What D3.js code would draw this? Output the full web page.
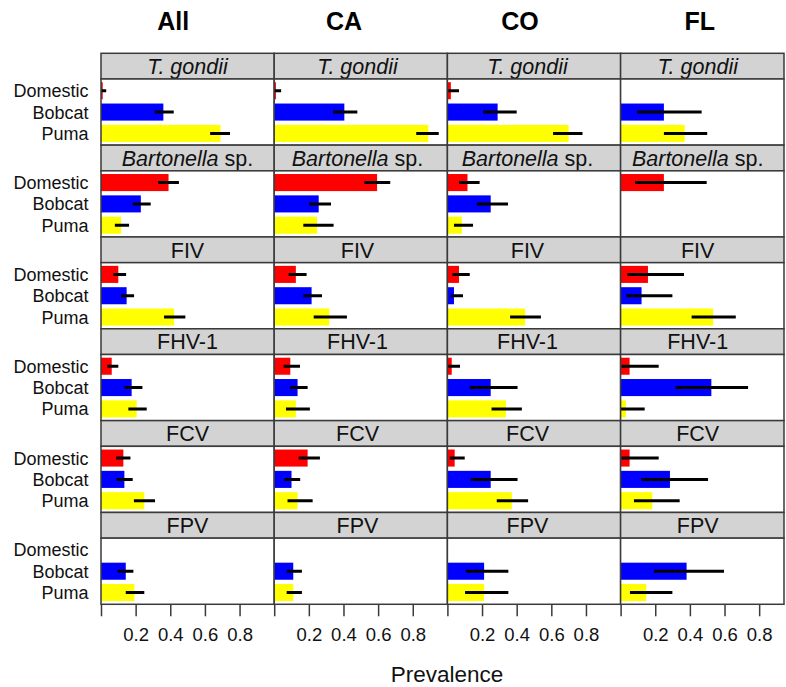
<!DOCTYPE html>
<html>
<head>
<meta charset="utf-8">
<script src="https://cdn.jsdelivr.net/npm/d3@7/dist/d3.min.js"></script>
<style>
  html, body { margin: 0; padding: 0; background: #fff; }
  svg { display: block; font-family: "Liberation Sans", Arial, sans-serif; }
</style>
</head>
<body>
<svg id="chart" width="786" height="687"></svg>
<script>
// ---------------- DATA ----------------
const regions = ["All", "CA", "CO", "FL"];
const pathogens = ["T. gondii", "Bartonella sp.", "FIV", "FHV-1", "FCV", "FPV"];
const species = ["Domestic", "Bobcat", "Puma"];
const speciesColors = ["#ff0000", "#0000ff", "#ffff00"];
const tickValues = [0, 0.2, 0.4, 0.6, 0.8];
const tickLabels = ["", "0.2", "0.4", "0.6", "0.8"];

// prevalence estimates: rows = pathogens, cols = Domestic, Bobcat, Puma (null = no data)
const estAll = [[0.01, 0.36, 0.69], [0.39, 0.23, 0.116], [0.10, 0.148, 0.422], [0.062, 0.177, 0.206], [0.129, 0.135, 0.25], [null, 0.143, 0.193]];
const lowAll = [[0.0, 0.31, 0.63], [0.33, 0.183, 0.08], [0.071, 0.116, 0.364], [0.036, 0.135, 0.158], [0.087, 0.09, 0.19], [null, 0.096, 0.143]];
const highAll = [[0.03, 0.42, 0.745], [0.45, 0.287, 0.162], [0.145, 0.191, 0.487], [0.10, 0.239, 0.264], [0.17, 0.183, 0.312], [null, 0.187, 0.25]];

const estCA = [[0.01, 0.405, 0.89], [0.594, 0.257, 0.247], [0.125, 0.216, 0.318], [0.093, 0.135, 0.125], [0.193, 0.10, 0.135], [null, 0.11, 0.11]];
const lowCA = [[0.0, 0.34, 0.82], [0.52, 0.202, 0.168], [0.083, 0.168, 0.228], [0.054, 0.091, 0.068], [0.141, 0.058, 0.077], [null, 0.072, 0.072]];
const highCA = [[0.04, 0.48, 0.95], [0.67, 0.328, 0.343], [0.187, 0.276, 0.42], [0.149, 0.193, 0.206], [0.264, 0.15, 0.222], [null, 0.16, 0.16]];

const estCO = [[0.02, 0.29, 0.70], [0.116, 0.25, 0.083], [0.067, 0.038, 0.449], [0.025, 0.25, 0.338], [0.042, 0.25, 0.372], [null, 0.212, 0.212]];
const lowCO = [[0.005, 0.206, 0.61], [0.067, 0.17, 0.038], [0.029, 0.02, 0.362], [0.005, 0.13, 0.255], [0.013, 0.135, 0.285], [null, 0.106, 0.102]];
const highCO = [[0.067, 0.40, 0.78], [0.186, 0.35, 0.148], [0.129, 0.09, 0.54], [0.073, 0.405, 0.43], [0.10, 0.405, 0.466], [null, 0.352, 0.352]];

const estFL = [[null, 0.25, 0.37], [0.25, null, null], [0.158, 0.121, 0.534], [0.052, 0.524, 0.031], [0.052, 0.285, 0.183], [null, 0.381, 0.148]];
const lowFL = [[null, 0.096, 0.25], [0.083, null, null], [0.039, 0.033, 0.41], [0.005, 0.318, 0.001], [0.005, 0.12, 0.077], [null, 0.193, 0.054]];
const highFL = [[null, 0.468, 0.50], [0.497, null, null], [0.366, 0.299, 0.665], [0.22, 0.736, 0.139], [0.22, 0.505, 0.341], [null, 0.597, 0.299]];

const estimates = [estAll, estCA, estCO, estFL];
const lows = [lowAll, lowCA, lowCO, lowFL];
const highs = [highAll, highCA, highCO, highFL];

// ---------------- LAYOUT ----------------
const L = {
  left: 101, colW: 173.2, top: 53.3, rowH: 91.83, stripH: 25.7, rightClip: 784,
  labelX: 88.5, titleY: 30, axisLabelY: 682
};
const titleX = [173.3, 344, 520, 699.7];
const stripTextX = [187.5, 357.5, 527.5, 697.7];
const panelH = L.rowH - L.stripH;
const border = "#3a3a3a";
const stripFill = "#d3d3d3";

const svg = d3.select("#chart");

const x = d3.scaleLinear().domain([0, 1]).range([0, L.colW]);
const y = d3.scaleBand().domain(species).range([0, panelH]).paddingInner(0.2).paddingOuter(0.15);
const color = d3.scaleOrdinal().domain(species).range(speciesColors);

const defs = svg.append("defs");

// column titles
svg.selectAll("text.title").data(regions).join("text")
  .attr("class", "title")
  .attr("x", (d, i) => titleX[i])
  .attr("y", L.titleY)
  .attr("text-anchor", "middle")
  .attr("font-weight", "bold")
  .attr("font-size", 25)
  .attr("fill", "#000")
  .text(d => d);

regions.forEach((reg, ci) => {
  const colLeft = L.left + ci * L.colW;
  const w = Math.min(L.colW, L.rightClip - colLeft);

  defs.append("clipPath").attr("id", "clip" + ci)
    .append("rect").attr("x", 0).attr("y", 0).attr("width", w).attr("height", panelH);

  pathogens.forEach((pat, ri) => {
    const rowTop = L.top + ri * L.rowH;
    const g = svg.append("g").attr("transform", `translate(${colLeft},${rowTop})`);

    // strip
    g.append("rect").attr("x", 0).attr("y", 0).attr("width", w).attr("height", L.stripH)
      .attr("fill", stripFill).attr("stroke", border).attr("stroke-width", 1.5);
    const st = g.append("text")
      .attr("x", stripTextX[ci] - colLeft)
      .attr("y", L.stripH / 2)
      .attr("dy", "0.36em")
      .attr("text-anchor", "middle")
      .attr("font-size", 21.5)
      .attr("fill", "#111");
    if (pat === "T. gondii") {
      st.append("tspan").attr("font-style", "italic").text("T. gondii");
    } else if (pat === "Bartonella sp.") {
      st.append("tspan").attr("font-style", "italic").text("Bartonella");
      st.append("tspan").text(" sp.");
    } else {
      st.text(pat);
    }

    // panel
    const p = g.append("g").attr("transform", `translate(0,${L.stripH})`);
    p.append("rect").attr("width", w).attr("height", panelH).attr("fill", "#fff");

    const rows = species.map((s, si) => ({
      s,
      v: estimates[ci][ri][si],
      lo: lows[ci][ri][si],
      hi: highs[ci][ri][si]
    })).filter(d => d.v !== null);

    const inner = p.append("g").attr("clip-path", `url(#clip${ci})`);
    inner.selectAll("rect.bar").data(rows).join("rect")
      .attr("class", "bar")
      .attr("x", x(0))
      .attr("y", d => y(d.s))
      .attr("width", d => x(d.v) - x(0))
      .attr("height", y.bandwidth())
      .attr("fill", d => color(d.s));
    inner.selectAll("line.err").data(rows).join("line")
      .attr("class", "err")
      .attr("x1", d => x(d.lo))
      .attr("x2", d => x(d.hi))
      .attr("y1", d => y(d.s) + y.bandwidth() / 2)
      .attr("y2", d => y(d.s) + y.bandwidth() / 2)
      .attr("stroke", "#000")
      .attr("stroke-width", 3);

    p.append("rect").attr("width", w).attr("height", panelH)
      .attr("fill", "none").attr("stroke", border).attr("stroke-width", 1.5);

    // species labels on left column
    if (ci === 0) {
      svg.selectAll(null).data(species).enter().append("text")
        .attr("x", L.labelX)
        .attr("y", d => rowTop + L.stripH + y(d) + y.bandwidth() / 2)
        .attr("dy", "0.36em")
        .attr("text-anchor", "end")
        .attr("font-size", 18)
        .attr("fill", "#111")
        .text(d => d);
    }
  });

  // bottom axis
  const axis = d3.axisBottom(x)
    .tickValues(tickValues)
    .tickFormat((d, i) => tickLabels[i])
    .tickSize(12)
    .tickPadding(12);
  const ag = svg.append("g")
    .attr("transform", `translate(${colLeft},${L.top + pathogens.length * L.rowH})`)
    .call(axis);
  ag.select(".domain").remove();
  ag.selectAll(".tick line").attr("stroke", border).attr("stroke-width", 1.5);
  ag.selectAll(".tick text")
    .attr("font-size", 18.5)
    .attr("font-family", "'Liberation Sans', Arial, sans-serif")
    .attr("fill", "#111");
});

// x axis title
svg.append("text")
  .attr("x", 447)
  .attr("y", L.axisLabelY)
  .attr("text-anchor", "middle")
  .attr("font-size", 22.5)
  .attr("fill", "#111")
  .text("Prevalence");
</script>
</body>
</html>
